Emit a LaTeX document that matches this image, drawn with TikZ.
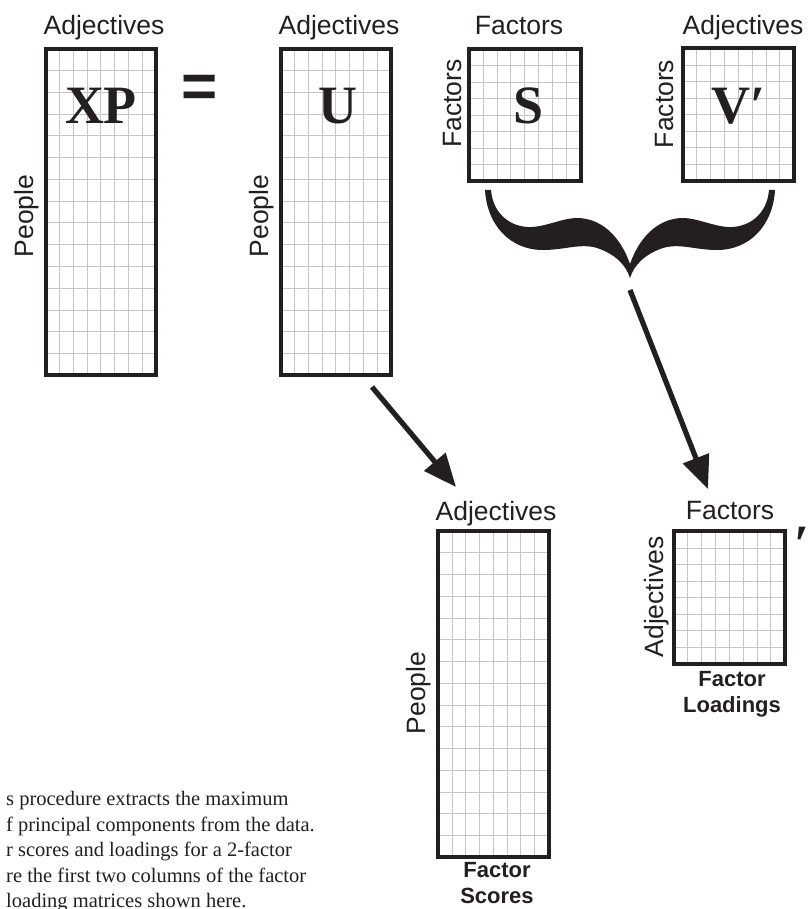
\documentclass[tikz,border=0pt]{standalone}
\usepackage{fontspec}
\setmainfont{Liberation Serif}
\setsansfont{Liberation Sans}
\usepackage{tikz}
\usetikzlibrary{arrows.meta,positioning}

\definecolor{ink}{RGB}{35,31,32}

\begin{document}
\begin{tikzpicture}[
  x=1pt, y=-1pt,
  tallmat/.style={rectangle, inner sep=0pt, minimum width=110pt, minimum height=326pt},
  sqmat/.style={rectangle, inner sep=0pt, minimum width=111pt, minimum height=132pt},
  gridline/.style={draw=gray!45, line width=0.9pt},
  matframe/.style={draw=ink, line width=4.2pt},
  axislabel/.style={font=\fontsize{26.5}{30}\selectfont\sffamily, text=ink, inner sep=0pt, anchor=base},
  sidelabel/.style={axislabel, rotate=90},
  bigletter/.style={font=\fontsize{54}{54}\selectfont\bfseries, text=ink, inner sep=0pt, anchor=base},
  captext/.style={font=\fontsize{22}{26}\selectfont\sffamily\bfseries, text=ink, align=center, inner sep=0pt, anchor=north},
  notetext/.style={font=\fontsize{20.5}{25.6}\selectfont, text=ink, align=left, inner sep=0pt, anchor=north west},
  flow/.style={-{Triangle[length=33pt, width=27pt]}, line width=5.2pt, draw=ink}
]
  \useasboundingbox (0,0) rectangle (809,909);

  % XP = U S V'
  \node[tallmat] (xp) at (101,212) {};
  \node[tallmat] (u) at (336,212) {};
  \node[sqmat] (s) at (525,115) {};
  \node[sqmat] (v) at (738.5,114.5) {};

  % scores and loadings (bottom)
  \node[tallmat] (scores) at (493.5,694) {};
  \node[sqmat] (load) at (729.5,597.5) {};

  % cell grids
  \draw[gridline, shift={(xp.south west)}] (0,0) grid[xstep=13.75pt, ystep=21.75pt] (110pt,326pt);
  \draw[gridline, shift={(u.south west)}] (0,0) grid[xstep=13.75pt, ystep=21.75pt] (110pt,326pt);
  \draw[gridline, shift={(scores.south west)}] (0,0) grid[xstep=13.75pt, ystep=21.75pt] (110pt,326pt);
  \draw[gridline, shift={(s.south west)}] (0,0) grid[xstep=13.875pt, ystep=16.5pt] (111pt,132pt);
  \draw[gridline, shift={(v.south west)}] (0,0) grid[xstep=13.875pt, ystep=16.5pt] (111pt,132pt);
  \draw[gridline, shift={(load.south west)}] (0,0) grid[xstep=13.875pt, ystep=16.5pt] (111pt,132pt);

  % heavy frames
  \draw[matframe] (xp.north west) rectangle (xp.south east);
  \draw[matframe] (u.north west) rectangle (u.south east);
  \draw[matframe] (s.north west) rectangle (s.south east);
  \draw[matframe] (v.north west) rectangle (v.south east);
  \draw[matframe] (scores.north west) rectangle (scores.south east);
  \draw[matframe] (load.north west) rectangle (load.south east);

  % matrix names
  \node[bigletter] (xpname) at (101,124) {XP};
  \node[bigletter] (uname) at (338,124) {U};
  \node[bigletter] (sname) at (529,124) {S};
  \node[bigletter] (vname) at (738.5,124) {V′};
  \node[bigletter, font=\fontsize{62}{62}\selectfont\sffamily\bfseries, anchor=center] (eq) at (199.5,91.5) {=};
  \node[bigletter] (loadprime) at (802,562) {′};

  % column labels
  \node[axislabel] (xptop) at (104,35) {Adjectives};
  \node[axislabel] (utop) at (339,35) {Adjectives};
  \node[axislabel] (stop) at (519,35) {Factors};
  \node[axislabel] (vtop) at (743,35) {Adjectives};
  \node[axislabel] (scorestop) at (496,520) {Adjectives};
  \node[axislabel] (loadtop) at (730,519) {Factors};

  % row labels
  \node[sidelabel] (xpside) at (33,216) {People};
  \node[sidelabel] (uside) at (268,216) {People};
  \node[sidelabel] (sside) at (461,103.5) {Factors};
  \node[sidelabel] (vside) at (673,104) {Factors};
  \node[sidelabel] (scoresside) at (425,693) {People};
  \node[sidelabel] (loadside) at (663,597) {Adjectives};

  % brace under S and V'
  \fill[ink] (485,190) .. controls (487,225) and (510,250) .. (543,250)
    .. controls (565,250) and (580,243) .. (597,248)
    .. controls (615,254) and (626,265) .. (630,278)
    .. controls (634,265) and (645,254) .. (663,248)
    .. controls (680,243) and (695,250) .. (717,250)
    .. controls (750,250) and (773,225) .. (775,190)
    -- (769,190)
    .. controls (767,215) and (748,228) .. (728,227)
    .. controls (712,226) and (697,218) .. (683,218)
    .. controls (660,218) and (640,235) .. (630,264)
    .. controls (620,235) and (600,218) .. (577,218)
    .. controls (563,218) and (548,226) .. (532,227)
    .. controls (512,228) and (493,215) .. (491,190) -- cycle;

  % arrows down to the results
  \coordinate (ufoot) at (372,387);
  \coordinate (scoreshead) at (456,487);
  \coordinate (bracetip) at (630,290);
  \coordinate (loadhead) at (708,489);
  \draw[flow] (ufoot) -- (scoreshead);
  \draw[flow] (bracetip) -- (loadhead);

  % captions
  \node[captext] (scorescap) at (497,862) {Factor\\Scores};
  \node[captext] (loadcap) at (732,671) {Factor\\Loadings};

  % explanation text
  \node[notetext] (note) at (6,791) {s procedure extracts the maximum\\
    f principal components from the data.\\
    r scores and loadings for a 2-factor\\
    re the first two columns of the factor\\
    loading matrices shown here.};
\end{tikzpicture}
\end{document}
